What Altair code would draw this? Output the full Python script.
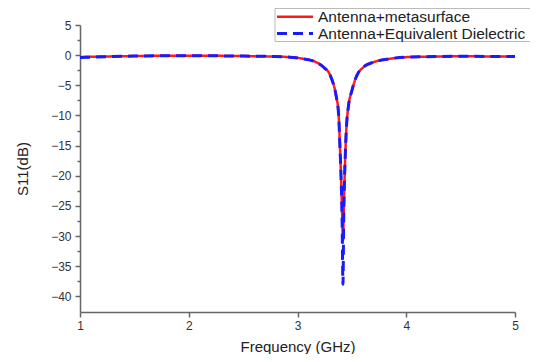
import altair as alt
import pandas as pd

freq = [1.0, 1.5, 2.0, 2.5, 2.75, 2.93, 3.05, 3.15, 3.24, 3.30, 3.346, 3.361, 3.37, 3.38, 3.39,
        3.40, 3.41, 3.418, 3.425, 3.438, 3.45, 3.469, 3.50, 3.545, 3.606, 3.70, 3.85, 4.0, 4.5, 5.0]
red = [-0.3, -0.15, -0.1, -0.15, -0.22, -0.33, -0.6, -1.0, -2.0, -3.3, -5.9, -7.3, -8.2, -10.5, -15.0,
       -20.0, -26.0, -30.8, -26.0, -17.3, -12.0, -8.4, -5.9, -3.4, -2.0, -1.16, -0.6, -0.33, -0.2, -0.22]
blue = [-0.4, -0.15, -0.1, -0.15, -0.22, -0.33, -0.6, -1.0, -2.0, -3.3, -5.9, -7.3, -8.2, -10.5, -15.0,
        -20.0, -27.0, -38.0, -27.0, -17.3, -12.0, -8.4, -5.9, -3.4, -2.0, -1.16, -0.6, -0.33, -0.2, -0.22]

names = ["Antenna+metasurface", "Antenna+Equivalent Dielectric"]
colors = ["#ff1a1a", "#1a1aff"]
dashes = [[1, 0], [10, 6]]
widths = [2.5, 3]

rows = []
for f, v in zip(freq, red):
    rows.append({"f": f, "s": v, "series": names[0], "o": 0})
for f, v in zip(freq, blue):
    rows.append({"f": f, "s": v, "series": names[1], "o": 1})
df = pd.DataFrame(rows)

xticks = [1, 1.5, 2, 2.5, 3, 3.5, 4, 4.5, 5]
yticks = [5 - 2.5 * i for i in range(19)]

font = "Liberation Sans"

lines = alt.Chart(df).mark_line(strokeCap="butt", interpolate="monotone").encode(
    x=alt.X("f:Q", title="Frequency (GHz)",
            scale=alt.Scale(domain=[1, 5], nice=False, zero=False),
            axis=alt.Axis(values=xticks, grid=False, format="d", labelFlush=False,
                          labelExpr="datum.value % 1 === 0 ? datum.label : ''",
                          tickSize={"condition": {"test": "datum.value % 1 === 0", "value": 5}, "value": 3},
                          labelPadding=3, titlePadding=8)),
    y=alt.Y("s:Q", title="S11(dB)",
            scale=alt.Scale(domain=[-42.6, 5], nice=False, zero=False),
            axis=alt.Axis(values=yticks, grid=False, format="d", labelFlush=False,
                          labelExpr="datum.value % 5 === 0 ? datum.label : ''",
                          tickSize={"condition": {"test": "datum.value % 5 === 0", "value": 5}, "value": 3},
                          labelPadding=4, titlePadding=20)),
    color=alt.Color("series:N", scale=alt.Scale(domain=names, range=colors), legend=None),
    strokeDash=alt.StrokeDash("series:N", scale=alt.Scale(domain=names, range=dashes), legend=None),
    strokeWidth=alt.StrokeWidth("series:N", scale=alt.Scale(domain=names, range=widths), legend=None),
    order="o:Q",
    detail="series:N",
)

# manual legend (box, line samples, labels)
leg_df = pd.DataFrame({"series": names})
box = alt.Chart(leg_df.head(1)).mark_rect(fill="white", stroke="#bbbbbb", strokeWidth=1).encode(
    x=alt.value(195), x2=alt.value(452), y=alt.value(-16.5), y2=alt.value(16.5)
)
leg_layers = [box]
row_y = [-8.2, 8.6]
for i, nm in enumerate(names):
    sub = leg_df[leg_df["series"] == nm]
    leg_layers.append(
        alt.Chart(sub).mark_rule(color=colors[i], strokeWidth=widths[i], strokeDash=dashes[i],
                                 strokeCap="butt").encode(
            x=alt.value(197), x2=alt.value(233), y=alt.value(row_y[i])
        )
    )
    leg_layers.append(
        alt.Chart(sub).mark_text(align="left", baseline="middle", font=font, fontSize=15.5,
                                 color="#222222").encode(
            x=alt.value(238), y=alt.value(row_y[i]), text="series:N"
        )
    )

chart = alt.layer(lines, *leg_layers).properties(
    width=435, height=287,
    autosize=alt.AutoSizeParams(type="none"),
    padding={"left": 72, "top": 17, "right": 15, "bottom": 42},
).configure_view(stroke=None).configure_axis(
    domainColor="#666666", domainWidth=1.5, tickColor="#666666", tickWidth=1.5,
    labelFont=font, labelFontSize=12, labelColor="#333333",
    titleFont=font, titleFontSize=15, titleColor="#222222", titleFontWeight="normal",
)

chart.save("out.html", embed_options={"renderer": "svg", "actions": False})
